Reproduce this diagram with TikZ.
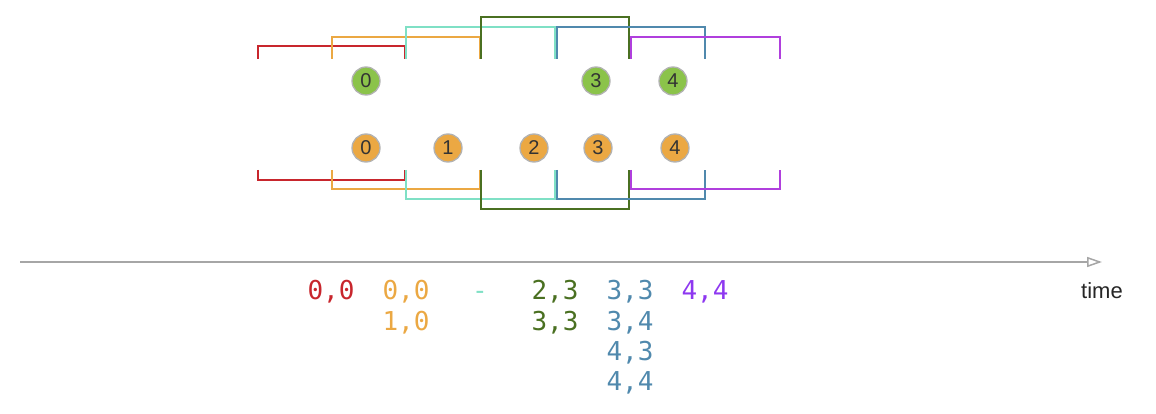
\documentclass[tikz,border=0pt]{standalone}
\usepackage{fontspec}
\setmainfont{Liberation Sans}
\newfontfamily\monofont{DejaVu Sans Mono}
\usepackage{tikz}
\usetikzlibrary{arrows.meta,positioning}

\definecolor{winred}{HTML}{C8262D}
\definecolor{winorange}{HTML}{EBA843}
\definecolor{winteal}{HTML}{7FE0C5}
\definecolor{wingreen}{HTML}{4A7021}
\definecolor{winblue}{HTML}{5089AD}
\definecolor{winpurple}{HTML}{B03FDD}
\definecolor{labpurple}{HTML}{8E38F0}
\definecolor{ballgreen}{HTML}{8BC34A}
\definecolor{ballorange}{HTML}{EBA843}

\begin{document}
\begin{tikzpicture}[
    x=1pt, y=-1pt,
    win/.style={line width=2.7pt},
    ball/.style={circle, draw=gray!60, line width=1.3pt, minimum size=28pt, inner sep=0pt,
                 font=\fontsize{20}{20}\selectfont, text=black!80},
    pair/.style={anchor=base, font=\monofont\fontsize{26}{30}\selectfont},
    axis/.style={draw=black!35, line width=1.5pt, -{Triangle[open, length=15pt, width=10pt]}}
]
    \useasboundingbox (0,0) rectangle (1156,414);

    % windows above the upper stream
    \draw[win, winred]    (258,59) |- (405,46) -- (405,59);
    \draw[win, winorange] (332,59) |- (480,37) -- (480,59);
    \draw[win, winteal]   (406,59) |- (555,27) -- (555,59);
    \draw[win, wingreen]  (481,59) |- (629,17) -- (629,59);
    \draw[win, winblue]   (557,59) |- (705,27) -- (705,59);
    \draw[win, winpurple] (631,59) |- (780,37) -- (780,59);

    % windows below the lower stream
    \draw[win, winred]    (258,170) |- (405,180) -- (405,170);
    \draw[win, winorange] (332,170) |- (480,189) -- (480,170);
    \draw[win, winteal]   (406,170) |- (555,199) -- (555,170);
    \draw[win, wingreen]  (481,170) |- (629,209) -- (629,170);
    \draw[win, winblue]   (557,170) |- (705,199) -- (705,170);
    \draw[win, winpurple] (631,170) |- (780,189) -- (780,170);

    % upper stream
    \node[ball, fill=ballgreen] (up0) at (366,81) {0};
    \node[ball, fill=ballgreen] (up3) at (596,81) {3};
    \node[ball, fill=ballgreen] (up4) at (673,81) {4};

    % lower stream
    \node[ball, fill=ballorange] (lo0) at (366,148) {0};
    \node[ball, fill=ballorange] (lo1) at (448,148) {1};
    \node[ball, fill=ballorange] (lo2) at (534,148) {2};
    \node[ball, fill=ballorange] (lo3) at (598,148) {3};
    \node[ball, fill=ballorange] (lo4) at (675,148) {4};

    % time axis
    \coordinate (start) at (20,262);
    \coordinate (stop) at (1102,262);
    \draw[axis] (start) -- (stop);
    \node[font=\fontsize{22}{22}\selectfont, text=black!85] (time) at (1102,291) {time};

    % joined pairs per window
    \node[pair, text=winred]    (redA)    at (331,299) {0,0};
    \node[pair, text=winorange] (orangeA) at (406,299) {0,0};
    \node[pair, text=winorange] (orangeB) at (406,330) {1,0};
    \node[pair, text=winteal]   (tealA)   at (480,299) {-};
    \node[pair, text=wingreen]  (greenA)  at (555,299) {2,3};
    \node[pair, text=wingreen]  (greenB)  at (555,330) {3,3};
    \node[pair, text=winblue]   (blueA)   at (630,299) {3,3};
    \node[pair, text=winblue]   (blueB)   at (630,330) {3,4};
    \node[pair, text=winblue]   (blueC)   at (630,360) {4,3};
    \node[pair, text=winblue]   (blueD)   at (630,390) {4,4};
    \node[pair, text=labpurple] (purpleA) at (705,299) {4,4};
\end{tikzpicture}
\end{document}
